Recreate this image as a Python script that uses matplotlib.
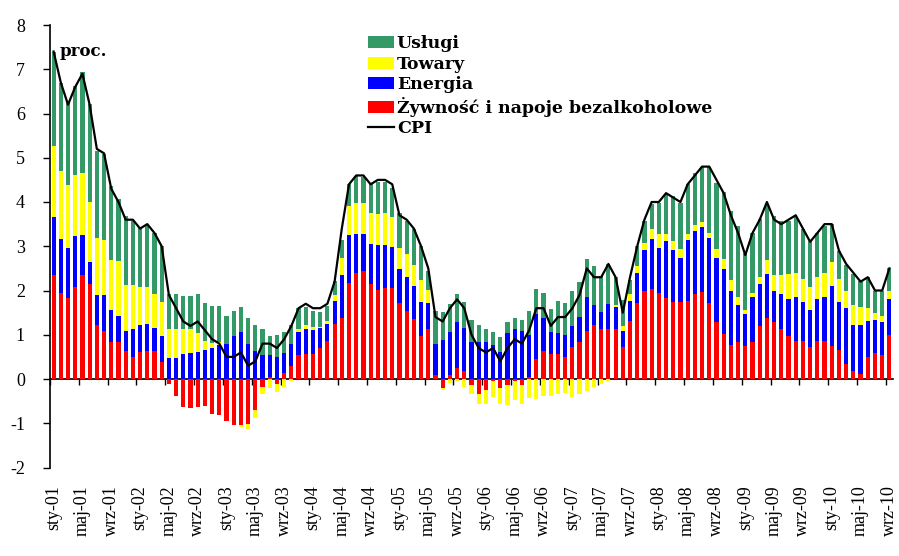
import numpy as np
import matplotlib.pyplot as plt

# contributions to CPI, pp (Jan 2001 - Sep 2010)
food = [2.36, 1.95, 1.83, 2.08, 2.34, 2.14, 1.23, 1.08, 0.84, 0.83, 0.63, 0.49,
        0.60, 0.64, 0.64, 0.38, -0.11, -0.38, -0.64, -0.66, -0.64, -0.60, -0.79, -0.81,
        -0.96, -1.05, -1.03, -1.01, -0.69, -0.17, 0.04, -0.11, 0.14, 0.29, 0.55, 0.57,
        0.57, 0.70, 0.85, 1.25, 1.37, 2.17, 2.40, 2.43, 2.14, 2.02, 2.06, 2.06,
        1.72, 1.53, 1.36, 0.97, 1.13, 0.10, -0.20, 0.10, 0.25, 0.19, -0.13, -0.35,
        -0.24, -0.04, -0.20, -0.13, -0.05, -0.13, 0.04, 0.45, 0.63, 0.57, 0.57, 0.49,
        0.72, 0.83, 1.09, 1.21, 1.12, 1.13, 1.12, 0.72, 1.31, 1.72, 1.98, 2.04,
        1.95, 1.83, 1.74, 1.74, 1.76, 1.93, 1.96, 1.72, 1.28, 1.02, 0.76, 0.83,
        0.74, 0.83, 1.19, 1.37, 1.28, 1.13, 0.98, 0.85, 0.85, 0.72, 0.85, 0.85,
        0.75, 0.65, 0.33, 0.17, 0.12, 0.50, 0.58, 0.55, 1.00]
energy = [1.30, 1.22, 1.12, 1.15, 0.91, 0.50, 0.67, 0.82, 0.71, 0.59, 0.46, 0.63,
          0.62, 0.61, 0.51, 0.59, 0.48, 0.48, 0.57, 0.59, 0.60, 0.65, 0.69, 0.76,
          0.80, 0.98, 1.06, 0.80, 0.63, 0.55, 0.51, 0.50, 0.45, 0.50, 0.51, 0.55,
          0.53, 0.45, 0.40, 0.51, 0.99, 1.08, 0.87, 0.84, 0.92, 1.00, 0.96, 0.93,
          0.77, 0.78, 0.74, 0.77, 0.59, 0.68, 0.89, 0.96, 1.03, 0.96, 0.83, 0.83,
          0.83, 0.76, 0.61, 1.04, 1.13, 1.09, 0.96, 1.01, 0.75, 0.49, 0.46, 0.51,
          0.47, 0.57, 0.77, 0.47, 0.40, 0.57, 0.50, 0.36, 0.45, 0.68, 0.93, 1.13,
          1.02, 1.29, 1.17, 1.00, 1.38, 1.41, 1.48, 1.47, 1.46, 1.46, 1.22, 0.85,
          0.74, 1.03, 0.95, 1.01, 0.70, 0.78, 0.82, 1.00, 0.90, 0.85, 0.95, 1.00,
          1.35, 1.10, 1.28, 1.05, 1.10, 0.80, 0.75, 0.73, 0.80]
goods = [1.61, 1.52, 1.43, 1.39, 1.40, 1.36, 1.28, 1.23, 1.14, 1.24, 1.03, 1.00,
         0.86, 0.83, 0.78, 0.77, 0.65, 0.65, 0.56, 0.54, 0.44, 0.20, 0.13, 0.08,
         0.00, 0.00, -0.06, -0.12, -0.19, -0.18, -0.20, -0.19, -0.18, -0.05, 0.06, 0.10,
         0.08, 0.02, 0.06, 0.13, 0.38, 0.66, 0.70, 0.71, 0.70, 0.72, 0.74, 0.66,
         0.48, 0.52, 0.47, 0.49, 0.30, 0.00, -0.05, -0.10, -0.05, -0.17, -0.22, -0.21,
         -0.32, -0.37, -0.36, -0.45, -0.42, -0.43, -0.43, -0.45, -0.39, -0.38, -0.35, -0.32,
         -0.41, -0.35, -0.28, -0.18, -0.11, -0.04, 0.06, 0.11, 0.15, 0.15, 0.17, 0.23,
         0.30, 0.15, 0.21, 0.20, 0.13, 0.15, 0.11, 0.12, 0.20, 0.24, 0.25, 0.18,
         0.07, 0.09, 0.16, 0.30, 0.38, 0.43, 0.58, 0.55, 0.50, 0.50, 0.50, 0.55,
         0.55, 0.50, 0.37, 0.45, 0.40, 0.30, 0.17, 0.15, 0.20]
services = [2.11, 2.01, 1.87, 2.01, 2.28, 2.21, 1.97, 1.95, 1.67, 1.40, 1.56, 1.45,
            1.34, 1.38, 1.38, 1.26, 0.80, 0.80, 0.74, 0.74, 0.89, 0.87, 0.83, 0.81,
            0.62, 0.55, 0.57, 0.58, 0.59, 0.57, 0.43, 0.50, 0.47, 0.43, 0.49, 0.40,
            0.35, 0.34, 0.34, 0.32, 0.41, 0.49, 0.62, 0.59, 0.66, 0.72, 0.69, 0.67,
            0.79, 0.74, 0.81, 0.77, 0.42, 0.75, 0.62, 0.64, 0.64, 0.59, 0.51, 0.39,
            0.29, 0.30, 0.34, 0.24, 0.25, 0.25, 0.53, 0.58, 0.57, 0.52, 0.73, 0.71,
            0.79, 0.80, 0.86, 0.87, 0.80, 0.89, 0.63, 0.59, 0.32, 0.45, 0.49, 0.55,
            0.70, 0.90, 1.02, 1.04, 1.13, 1.17, 1.25, 1.47, 1.50, 1.51, 1.57, 1.60,
            1.30, 1.36, 1.31, 1.27, 1.32, 1.23, 1.19, 1.25, 1.15, 1.05, 1.00, 1.05,
            0.85, 0.65, 0.60, 0.70, 0.60, 0.70, 0.50, 0.55, 0.50]
cpi = [7.4, 6.7, 6.2, 6.6, 6.9, 6.2, 5.2, 5.1, 4.3, 4.0, 3.6, 3.6,
       3.4, 3.5, 3.3, 3.0, 1.9, 1.6, 1.3, 1.2, 1.3, 1.1, 0.9, 0.8,
       0.5, 0.5, 0.6, 0.3, 0.4, 0.8, 0.8, 0.7, 0.9, 1.2, 1.6, 1.7,
       1.6, 1.6, 1.7, 2.2, 3.4, 4.4, 4.6, 4.6, 4.4, 4.5, 4.5, 4.4,
       3.7, 3.6, 3.4, 3.0, 2.5, 1.4, 1.3, 1.6, 1.8, 1.6, 1.0, 0.7,
       0.6, 0.7, 0.4, 0.7, 0.9, 0.8, 1.1, 1.6, 1.6, 1.2, 1.4, 1.4,
       1.6, 1.9, 2.5, 2.3, 2.3, 2.6, 2.3, 1.5, 2.3, 3.0, 3.6, 4.0,
       4.0, 4.2, 4.1, 4.0, 4.4, 4.6, 4.8, 4.8, 4.5, 4.2, 3.7, 3.3,
       2.8, 3.3, 3.6, 4.0, 3.6, 3.5, 3.6, 3.7, 3.4, 3.1, 3.3, 3.5,
       3.5, 2.9, 2.6, 2.4, 2.2, 2.3, 2.0, 2.0, 2.5]

month_abbr = ["sty", "lut", "mar", "kwi", "maj", "cze", "lip", "sie", "wrz", "paź", "lis", "gru"]
months = [f"{m}-{y:02d}" for y in range(1, 11) for m in month_abbr][:len(cpi)]

series = [
    (food, "#FF0000", "Żywność i napoje bezalkoholowe"),
    (energy, "#0000FF", "Energia"),
    (goods, "#FFFF00", "Towary"),
    (services, "#339966", "Usługi"),
]

n = len(cpi)
x = np.arange(n)

fig = plt.figure(figsize=(8.99, 5.56), dpi=100)
ax = fig.add_axes([50 / 899, 1 - 467.5 / 556, 843 / 899, 442.5 / 556])

pos = np.zeros(n)
neg = np.zeros(n)
bars = {}
for vals, color, label in series:
    v = np.array(vals)
    bottom = np.where(v >= 0, pos, neg)
    bars[label] = ax.bar(x, v, bottom=bottom, width=0.58, color=color, label=label)
    pos += np.clip(v, 0, None)
    neg += np.clip(v, None, 0)

line, = ax.plot(x, cpi, color="black", lw=1.6, label="CPI")

ax.set_xlim(-0.5, n - 0.5)
ax.set_ylim(-2, 8)
ax.set_yticks(range(-2, 9))
ax.set_yticklabels([str(v) for v in range(-2, 9)], fontfamily="Liberation Serif", fontsize=13)
ax.tick_params(axis="y", direction="out", length=5, width=1, pad=13)

for s in ["top", "right", "bottom"]:
    ax.spines[s].set_visible(False)
ax.spines["left"].set_linewidth(1.2)

ax.set_xticks(x[::4])
ax.set_xticklabels(months[::4], rotation=90, fontfamily="Liberation Serif", fontsize=13)
ax.tick_params(axis="x", length=0, pad=13)

# zero line with category tick marks
zero_ax = ax.secondary_xaxis(0.2)
zero_ax.set_xticks(np.arange(-0.5, n, 4))
zero_ax.set_xticklabels([])
zero_ax.tick_params(axis="x", direction="out", length=4, width=1)
zero_ax.spines["bottom"].set_linewidth(1.2)

ax.text(0.012, 0.96, "proc.", transform=ax.transAxes, fontfamily="DejaVu Serif",
        fontweight="bold", fontsize=12, va="top")

handles = [bars["Usługi"], bars["Towary"], bars["Energia"],
           bars["Żywność i napoje bezalkoholowe"], line]
ax.legend(handles, [h.get_label() for h in handles], loc="upper left",
          bbox_to_anchor=(0.365, 1.0), frameon=False, handlelength=1.5, handleheight=0.7,
          handletextpad=0.15, labelspacing=0.2, borderaxespad=0.2,
          prop={"family": "DejaVu Serif", "weight": "bold", "size": 12.5})

fig.savefig("out.png", dpi=100)
